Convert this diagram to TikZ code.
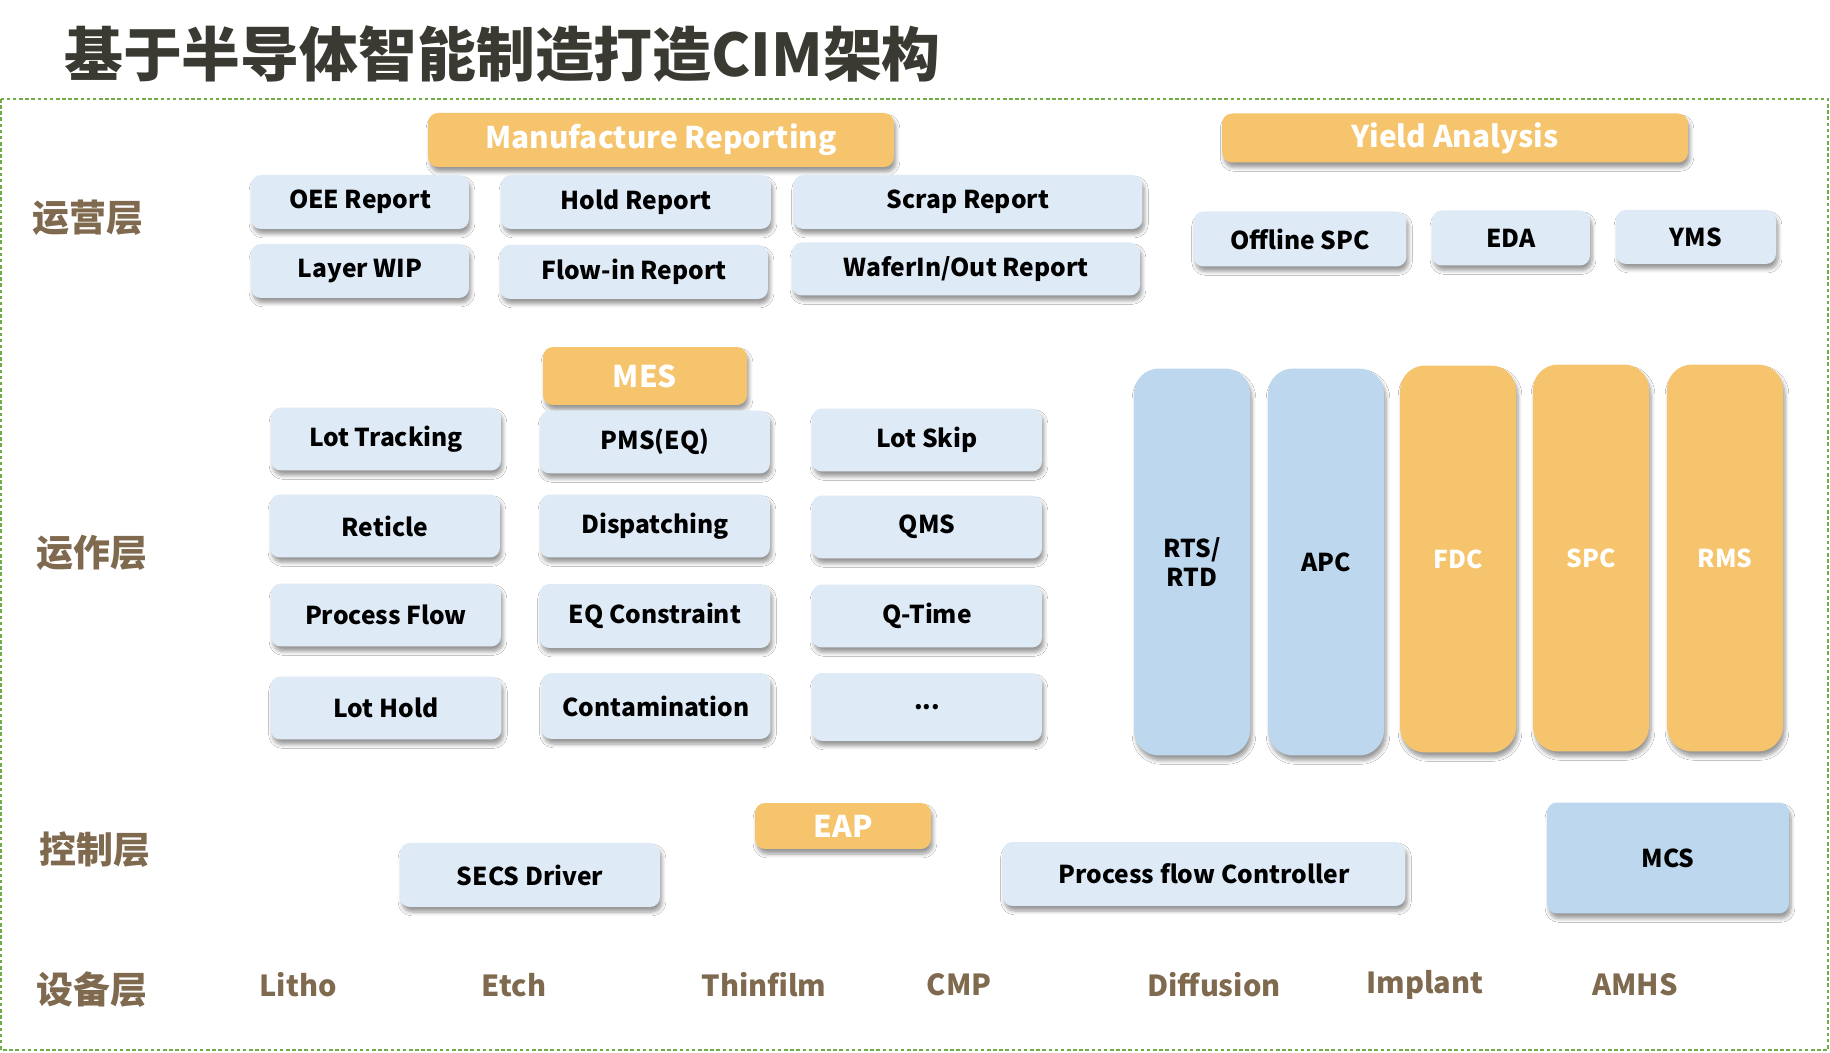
\documentclass[tikz,border=0pt]{standalone}
\usepackage{fontspec}
\setmainfont{Noto Sans CJK SC}
\usetikzlibrary{shadows.blur}
\definecolor{TitleClr}{RGB}{58,58,50}
\definecolor{LayerClr}{RGB}{127,106,79}
\definecolor{FrameClr}{RGB}{112,173,71}
\definecolor{OrangeClr}{RGB}{246,196,108}
\definecolor{PaleClr}{RGB}{222,234,246}
\definecolor{SkyClr}{RGB}{189,215,238}

\tikzset{
  box/.style={rounded corners=0.2cm,inner sep=0pt,align=center,
    font=\fontsize{14}{16}\selectfont\bfseries,
    blur shadow={shadow xshift=0.04cm,shadow yshift=-0.1cm,shadow blur steps=6,shadow opacity=40}},
  palebox/.style={box,fill=PaleClr,text=black},
  headbox/.style={box,fill=OrangeClr,text=white,font=\fontsize{17}{19}\selectfont\bfseries},
  colbox/.style={box,rounded corners=0.5cm,minimum width=2.32cm,minimum height=7.74cm},
  layer/.style={text=LayerClr,font=\fontsize{21}{23}\selectfont\bfseries},
  equip/.style={text=LayerClr,font=\fontsize{16.5}{18}\selectfont\bfseries}
}

\begin{document}
\begin{tikzpicture}[x=0.02cm,y=-0.02cm]
\useasboundingbox[fill=white] (0,0) rectangle (1830,1053);

\node[text=TitleClr,font=\fontsize{33.5}{36}\selectfont\bfseries,anchor=west] (title) at (58,54) {基于半导体智能制造打造CIM架构};
\draw[FrameClr,dashed,line width=0.6pt,dash pattern=on 2pt off 1.5pt] (1,99) rectangle (1828,1050);

\node[layer] (opslayer) at (88,218) {运营层};
\node[layer] (runlayer) at (92,553) {运作层};
\node[layer] (ctrllayer) at (95,850) {控制层};
\node[layer] (eqlayer) at (92,990) {设备层};

\node[headbox,minimum width=9.32cm,minimum height=1.08cm] (manu) at (661,140) {Manufacture Reporting};
\node[headbox,minimum width=9.32cm,minimum height=0.98cm] (yield) at (1455,138) {Yield Analysis};

\node[palebox,minimum width=4.36cm,minimum height=1.08cm] (oee) at (360,202) {OEE Report};
\node[palebox,minimum width=5.4cm,minimum height=1.08cm] (hold) at (636,202) {Hold Report};
\node[palebox,minimum width=6.98cm,minimum height=1.08cm] (scrap) at (968,202) {Scrap Report};
\node[palebox,minimum width=4.36cm,minimum height=1.08cm] (wip) at (360,271) {Layer WIP};
\node[palebox,minimum width=5.36cm,minimum height=1.08cm] (flowin) at (634,272) {Flow-in Report};
\node[palebox,minimum width=6.96cm,minimum height=1.06cm] (waferio) at (966,269) {WaferIn/Out Report};

\node[palebox,minimum width=4.26cm,minimum height=1.1cm] (offspc) at (1300,239) {Offline SPC};
\node[palebox,minimum width=3.16cm,minimum height=1.1cm] (eda) at (1511,238) {EDA};
\node[palebox,minimum width=3.2cm,minimum height=1.08cm] (yms) at (1696,237) {YMS};

\node[headbox,minimum width=4.08cm,minimum height=1.16cm] (mes) at (645,376) {MES};

\node[palebox,minimum width=4.6cm,minimum height=1.26cm] (lottrack) at (386,439) {Lot Tracking};
\node[palebox,minimum width=4.6cm,minimum height=1.26cm] (pms) at (655,442) {PMS(EQ)};
\node[palebox,minimum width=4.6cm,minimum height=1.26cm] (lotskip) at (927,440) {Lot Skip};
\node[palebox,minimum width=4.6cm,minimum height=1.26cm] (reticle) at (385,526) {Reticle};
\node[palebox,minimum width=4.6cm,minimum height=1.26cm] (dispatch) at (655,526) {Dispatching};
\node[palebox,minimum width=4.6cm,minimum height=1.26cm] (qms) at (927,527) {QMS};
\node[palebox,minimum width=4.6cm,minimum height=1.26cm] (pflow) at (386,615) {Process Flow};
\node[palebox,minimum width=4.62cm,minimum height=1.28cm] (eqcons) at (655,616) {EQ Constraint};
\node[palebox,minimum width=4.6cm,minimum height=1.26cm] (qtime) at (927,616) {Q-Time};
\node[palebox,minimum width=4.62cm,minimum height=1.26cm] (lothold) at (386,708) {Lot Hold};
\node[palebox,minimum width=4.58cm,minimum height=1.32cm] (contam) at (656,706) {Contamination};
\node[palebox,minimum width=4.6cm,minimum height=1.36cm] (more) at (927,707) {...};

\node[colbox,fill=SkyClr,text=black] (rts) at (1192,562) {RTS/\\RTD};
\node[colbox,fill=SkyClr,text=black] (apc) at (1326,562) {APC};
\node[colbox,fill=OrangeClr,text=white] (fdc) at (1458,559) {FDC};
\node[colbox,fill=OrangeClr,text=white] (spc) at (1591,558) {SPC};
\node[colbox,fill=OrangeClr,text=white] (rms) at (1725,558) {RMS};

\node[headbox,minimum width=3.52cm,minimum height=0.92cm] (eap) at (843,826) {EAP};
\node[palebox,minimum width=5.2cm,minimum height=1.28cm] (secs) at (530,875) {SECS Driver};
\node[palebox,minimum width=8.06cm,minimum height=1.28cm] (pfc) at (1204,874) {Process flow Controller};
\node[box,fill=SkyClr,minimum width=4.84cm,minimum height=2.22cm] (mcs) at (1668,858) {MCS};

\node[equip] (litho) at (298,985) {Litho};
\node[equip] (etch) at (514,985) {Etch};
\node[equip] (thin) at (764,985) {Thinfilm};
\node[equip] (cmp) at (959,985) {CMP};
\node[equip] (diff) at (1214,985) {Diffusion};
\node[equip] (impl) at (1425,985) {Implant};
\node[equip] (amhs) at (1635,985) {AMHS};

\end{tikzpicture}
\end{document}
